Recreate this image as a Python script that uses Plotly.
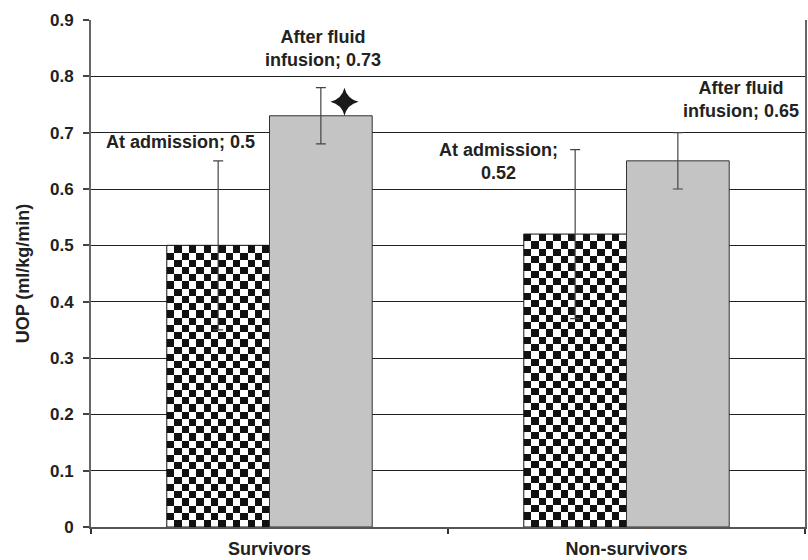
import plotly.graph_objects as go

# Urine output (UOP) by outcome group, before and after fluid infusion
groups = ["Survivors", "Non-survivors"]
admission = [0.50, 0.52]
admission_err = [0.15, 0.15]
after_fluid = [0.73, 0.65]
after_fluid_err = [0.05, 0.05]
y_ticks = [0, 0.1, 0.2, 0.3, 0.4, 0.5, 0.6, 0.7, 0.8, 0.9]

# significance marker above the survivors' post-infusion bar
star_pos = (0.21, 0.755)

W, H = 808, 560
M_L, M_R, M_T, M_B = 91, 1, 20, 27
X_RANGE = [-0.5, 1.5]
Y_RANGE = [0, 0.9]
BAR_W = 0.2877
FONT = dict(family="Liberation Sans, Arial, sans-serif", size=18, color="#222222", weight=700)
TICK_FONT = dict(FONT, size=17)

xs = list(range(len(groups)))
px_per_x = (W - M_L - M_R) / (X_RANGE[1] - X_RANGE[0])
px_per_y = (H - M_T - M_B) / (Y_RANGE[1] - Y_RANGE[0])

fig = go.Figure()

# checkerboard fill for the admission bars
n_cols = 14
for xi, v in zip(xs, admission):
    left = xi - BAR_W
    dx = BAR_W / n_cols
    cell_px = dx * px_per_x
    n_rows = max(1, round(v * px_per_y / cell_px))
    dy = v / n_rows
    z = [[(r + c) % 2 for c in range(n_cols)] for r in range(n_rows)]
    fig.add_trace(go.Heatmap(
        z=z, x0=left + dx / 2, dx=dx, y0=dy / 2, dy=dy,
        colorscale=[[0, "#ffffff"], [1, "#111111"]], zmin=0, zmax=1,
        showscale=False, hoverinfo="skip", zsmooth=False,
    ))

fig.add_trace(go.Bar(
    x=xs, y=admission, width=BAR_W, offset=-BAR_W,
    marker=dict(color="rgba(0,0,0,0)", line=dict(color="#111111", width=1)),
    error_y=dict(type="data", array=admission_err, color="#444444", thickness=1.2, width=5),
    name="At admission", showlegend=False,
))
fig.add_trace(go.Bar(
    x=xs, y=after_fluid, width=BAR_W, offset=0,
    marker=dict(color="#c4c4c4", line=dict(color="#333333", width=1)),
    error_y=dict(type="data", array=after_fluid_err, color="#444444", thickness=1.2, width=5),
    name="After fluid infusion", showlegend=False,
))

fig.add_trace(go.Scatter(
    x=[star_pos[0]], y=[star_pos[1]], mode="markers",
    marker=dict(symbol="star-diamond", size=20, color="#1a1a1a"),
    showlegend=False, hoverinfo="skip",
))

# data labels
label_specs = [
    ("At admission; {:g}", admission[0], -0.2486, 0.683),
    ("After fluid<br>infusion; {:g}", after_fluid[0], 0.1508, 0.850),
    ("At admission;<br>{:g}", admission[1], 0.6425, 0.649),
    ("After fluid<br>infusion; {:g}", after_fluid[1], 1.321, 0.758),
]
for tmpl, v, ax_, ay_ in label_specs:
    fig.add_annotation(
        x=ax_, y=ay_, xref="x", yref="y", text=tmpl.format(v),
        showarrow=False, xanchor="center", yanchor="middle", font=FONT,
    )

fig.update_layout(
    width=W, height=H,
    margin=dict(l=M_L, r=M_R, t=M_T, b=M_B),
    paper_bgcolor="white", plot_bgcolor="white",
    barmode="overlay", showlegend=False,
    font=FONT,
)
fig.update_xaxes(
    range=X_RANGE, tickmode="array", tickvals=xs, ticktext=groups,
    ticks="", showgrid=False, zeroline=False,
    showline=True, linecolor="#555555", linewidth=2,
    tickfont=FONT, ticklabelstandoff=4,
    minor=dict(tickmode="array", tickvals=[-0.5, 0.5, 1.5], ticks="outside",
               ticklen=5, tickcolor="#333333", tickwidth=1.5, showgrid=False),
)
fig.update_yaxes(
    range=Y_RANGE, tickmode="array", tickvals=y_ticks,
    ticktext=[f"{t:g}" for t in y_ticks],
    showgrid=True, gridcolor="#222222", gridwidth=1, zeroline=False,
    showline=True, linecolor="#666666", linewidth=2, mirror=True,
    ticks="outside", ticklen=6, tickcolor="#444444", tickwidth=1.5,
    tickfont=TICK_FONT, ticklabelstandoff=6,
    title=dict(text="UOP (ml/kg/min)", font=FONT, standoff=16),
)

fig.write_html("out.html")
